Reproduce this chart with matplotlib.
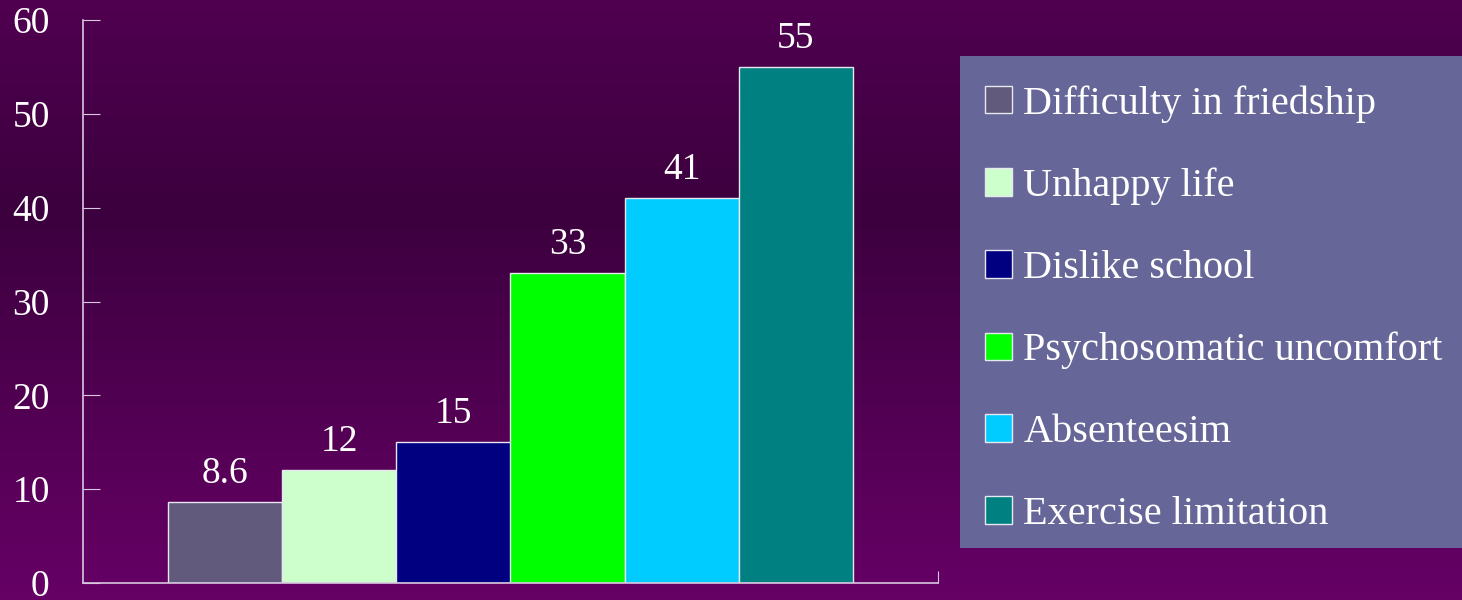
import numpy as np
import matplotlib.pyplot as plt
from matplotlib.colors import LinearSegmentedColormap
from matplotlib.patches import Rectangle

categories = ["Difficulty in friedship", "Unhappy life", "Dislike school",
              "Psychosomatic uncomfort", "Absenteesim", "Exercise limitation"]
values = [8.6, 12, 15, 33, 41, 55]
value_labels = ["8.6", "12", "15", "33", "41", "55"]
colors = ["#625a7c", "#ccffcc", "#000080", "#00ff00", "#00ccff", "#008080"]
yticks = [0, 10, 20, 30, 40, 50, 60]

plt.rcParams['font.family'] = ['Liberation Serif', 'DejaVu Serif']

W, H = 1462, 600
fig = plt.figure(figsize=(W / 100, H / 100), dpi=100)

# purple background, darker band in the upper middle
bg = fig.add_axes([0, 0, 1, 1], zorder=-10)
cmap = LinearSegmentedColormap.from_list(
    "bg", [(0, "#500050"), (0.35, "#3c003e"), (1, "#660066")])
grad = np.linspace(0, 1, 256).reshape(-1, 1)
bg.imshow(grad, cmap=cmap, aspect="auto", extent=[0, 1, 0, 1], origin="upper")
bg.axis("off")

# plot area in pixel coords: x 83..938, y 20..583
ax = fig.add_axes([83 / W, (H - 583) / H, (938 - 83) / W, (583 - 20) / H])
ax.set_facecolor("none")

n = len(values)
x = np.arange(n)
bars = ax.bar(x, values, width=1.0, color=colors, edgecolor="#e8e8f0",
              linewidth=1.0)
for xi, v, lab in zip(x, values, value_labels):
    ax.annotate(lab, (xi, v), xytext=(0, 8), textcoords="offset points",
                ha="center", va="bottom", color="white", fontsize=27)

pad_side = 0.745
ax.set_xlim(-0.5 - pad_side, n - 0.5 + pad_side)
ax.set_ylim(0, 60)
ax.set_yticks(yticks)
ax.set_xticks([ax.get_xlim()[1]])
ax.set_xticklabels([])
for side in ("top", "right"):
    ax.spines[side].set_visible(False)
for side in ("left", "bottom"):
    ax.spines[side].set_color("#d8c8e0")
    ax.spines[side].set_linewidth(1.2)
ax.tick_params(axis="y", direction="in", length=12, color="#d8c8e0",
               labelcolor="white", labelsize=27, pad=24)
ax.tick_params(axis="x", direction="in", length=9, color="#d8c8e0")

# legend panel
fig.patches.append(Rectangle((960 / W, (H - 548) / H), (W - 960) / W,
                             (548 - 56) / H, transform=fig.transFigure,
                             facecolor="#666699", edgecolor="none", zorder=0))
leg = fig.legend(bars, categories, loc="upper left",
                 bbox_to_anchor=(985 / W, (H - 85) / H), frameon=False,
                 fontsize=29, labelcolor="white", handlelength=0.67,
                 handleheight=0.67, handletextpad=0.28, labelspacing=1.115,
                 borderaxespad=0, borderpad=0)

fig.savefig("out.png", dpi=100)
